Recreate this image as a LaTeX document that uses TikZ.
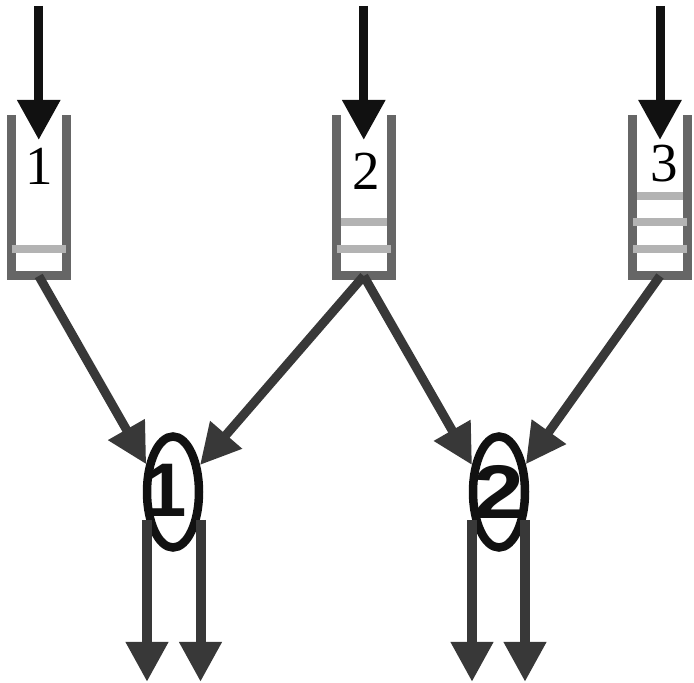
\documentclass[tikz,border=0pt]{standalone}
\usepackage{fontspec}
\setmainfont{Liberation Serif}
\newfontfamily\digitfont{Liberation Sans}
\usetikzlibrary{positioning,arrows.meta,shapes,calc}
\definecolor{wallgray}{HTML}{666666}
\definecolor{bargray}{HTML}{B3B3B3}
\definecolor{linkgray}{HTML}{383838}
\definecolor{feedblack}{HTML}{111111}
\tikzstyle{queue}=[rectangle, minimum width=54.5pt, minimum height=161pt, inner sep=0pt, outer sep=0pt]
\tikzstyle{wall}=[-, line width=9pt, draw=wallgray, line join=miter]
\tikzstyle{bar}=[-, line width=8pt, draw=bargray]
\tikzstyle{inbar}=[bar, shorten <=4.5pt, shorten >=4.5pt]
\tikzstyle{qlabel}=[anchor=base, inner sep=0pt, font=\fontsize{55}{55}\selectfont]
\tikzstyle{feed}=[-{Triangle[length=40pt,width=41pt]}, line width=9pt, draw=feedblack]
\tikzstyle{server}=[ellipse, draw=feedblack, line width=8.5pt, minimum width=52pt, minimum height=111pt, inner sep=0pt]
\tikzstyle{slabel}=[inner sep=0pt, font=\digitfont\bfseries\fontsize{76}{76}\selectfont, text=feedblack]
\tikzstyle{link}=[-{Triangle[length=40pt,width=40pt]}, line width=9pt, draw=linkgray]
\tikzstyle{drain}=[-{Triangle[length=40pt,width=40pt]}, line width=10pt, draw=linkgray]

\begin{document}
\begin{tikzpicture}[x=1pt,y=1pt]
\useasboundingbox (0,0) rectangle (694,683);
\node (Q1) [queue] at (38.75,487.5) {};
\node (Q2) [queue, right=270.5pt of Q1] {};
\node (Q3) [queue, right=241.75pt of Q2] {};
 \draw[wall]   (Q1.north west) -- (Q1.south west) -- (Q1.south east) -- (Q1.north east) ;
 \draw[wall]   (Q2.north west) -- (Q2.south west) -- (Q2.south east) -- (Q2.north east) ;
 \draw[wall]   (Q3.north west) -- (Q3.south west) -- (Q3.south east) -- (Q3.north east) ;
 % waiting jobs
 \draw[bar]    ([yshift=27pt]Q1.south west) -- ([yshift=27pt]Q1.south east) ;
 \draw[bar]    ([yshift=27pt]Q2.south west) -- ([yshift=27pt]Q2.south east) ;
 \draw[inbar]  ([yshift=54pt]Q2.south west) -- ([yshift=54pt]Q2.south east) ;
 \draw[bar]    ([yshift=27pt]Q3.south west) -- ([yshift=27pt]Q3.south east) ;
 \draw[bar]    ([yshift=54pt]Q3.south west) -- ([yshift=54pt]Q3.south east) ;
 \draw[inbar]  ([yshift=80pt]Q3.south west) -- ([yshift=80pt]Q3.south east) ;
\node (L1) [qlabel] at ($(Q1.north)+(0,-70)$) {1};
\node (L2) [qlabel] at ($(Q2.north)+(2,-75)$) {2};
\node (L3) [qlabel] at ($(Q3.north)+(4,-67)$) {3};
 \draw[feed]   ([yshift=109pt]Q1.north) -- ([yshift=-25pt]Q1.north) ;
 \draw[feed]   ([yshift=109pt]Q2.north) -- ([yshift=-25pt]Q2.north) ;
 \draw[feed]   ([yshift=109pt]Q3.north) -- ([yshift=-25pt]Q3.north) ;
\node (S1) [server] at (173,191) {};
\node (S2) [server] at (499,191) {};
\node (N1) [slabel] at ([xshift=-7pt,yshift=1.5pt]S1.center) {1};
\node (N2) [slabel, xscale=1.2] at ([yshift=0.5pt]S2.center) {2};
 \draw[link]   (Q1.south) -- (S1.134) ;
 \draw[link]   (Q2.south) -- (S1.45) ;
 \draw[link]   (Q2.south) -- (S2.135) ;
 \draw[link]   (Q3.south) -- (S2.46) ;
 \draw[drain]  ([xshift=-26pt,yshift=-28pt]S1.center) -- ([xshift=-26pt,yshift=-190pt]S1.center) ;
 \draw[drain]  ([xshift=27.5pt,yshift=-28pt]S1.center) -- ([xshift=27.5pt,yshift=-190pt]S1.center) ;
 \draw[drain]  ([xshift=-27pt,yshift=-28pt]S2.center) -- ([xshift=-27pt,yshift=-190pt]S2.center) ;
 \draw[drain]  ([xshift=26pt,yshift=-28pt]S2.center) -- ([xshift=26pt,yshift=-190pt]S2.center) ;
\end{tikzpicture}
\end{document}
